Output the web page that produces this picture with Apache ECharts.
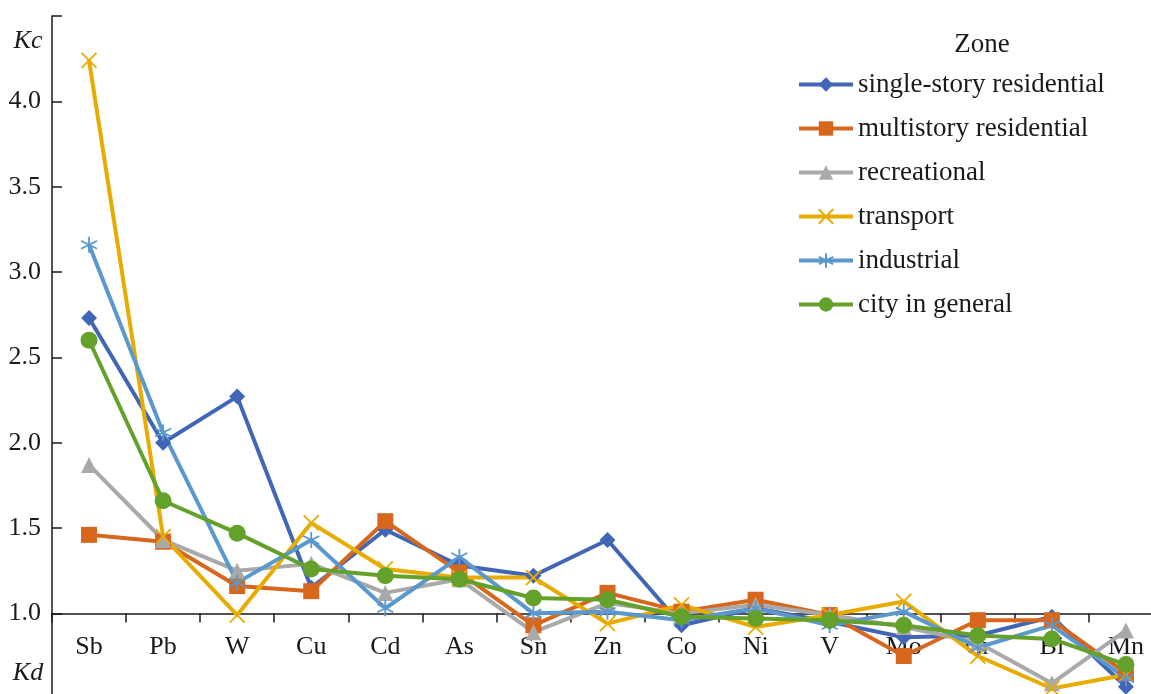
<!DOCTYPE html>
<html>
<head>
<meta charset="utf-8">
<script src="https://cdn.jsdelivr.net/npm/echarts@6/dist/echarts.min.js"></script>
<style>
  html, body { margin: 0; padding: 0; background: #fff; }
  #chart { width: 1151px; height: 694px; }
</style>
</head>
<body>
<div id="chart"></div>
<script>
// elements on x axis
const elements = ['Sb', 'Pb', 'W', 'Cu', 'Cd', 'As', 'Sn', 'Zn', 'Co', 'Ni', 'V', 'Mo', 'Cr', 'Bi', 'Mn'];

// Kc / Kd per zone
const singleStory = [2.73, 2.00, 2.27, 1.15, 1.49, 1.28, 1.22, 1.43, 0.93, 1.03, 0.95, 0.86, 0.87, 0.98, 0.57];
const multiStory  = [1.46, 1.42, 1.16, 1.13, 1.54, 1.24, 0.93, 1.12, 1.01, 1.08, 0.99, 0.75, 0.96, 0.96, 0.65];
const recreational = [1.87, 1.43, 1.25, 1.29, 1.12, 1.20, 0.89, 1.06, 1.00, 1.05, 0.99, 0.92, 0.83, 0.59, 0.90];
const transport   = [4.24, 1.45, 0.99, 1.53, 1.26, 1.21, 1.21, 0.94, 1.05, 0.92, 0.99, 1.07, 0.75, 0.56, 0.64];
const industrial  = [3.16, 2.06, 1.18, 1.43, 1.03, 1.33, 1.00, 1.01, 0.96, 1.03, 0.93, 1.01, 0.80, 0.93, 0.62];
const cityGeneral = [2.60, 1.66, 1.47, 1.26, 1.22, 1.20, 1.09, 1.08, 0.98, 0.97, 0.96, 0.93, 0.87, 0.85, 0.70];

const zoneNames = ['single-story residential', 'multistory residential', 'recreational', 'transport', 'industrial', 'city in general'];

const FONT = '"Liberation Serif", "DejaVu Serif", serif';
const X_PATH = 'path://M0,0L10,10M0,10L10,0';
const STAR_PATH = 'path://M5,0L5,10M0.7,2.5L9.3,7.5M0.7,7.5L9.3,2.5';

function lineSeries(name, data, color, symbol, size, stroked) {
  return {
    name: name,
    type: 'line',
    data: data,
    symbol: symbol,
    symbolSize: size,
    showAllSymbol: true,
    lineStyle: { color: color, width: 4 },
    itemStyle: stroked
      ? { color: 'rgba(0,0,0,0)', borderColor: color, borderWidth: 1.8 }
      : { color: color, borderWidth: 0 },
    emphasis: { disabled: true },
    animation: false
  };
}

const chart = echarts.init(document.getElementById('chart'));
chart.setOption({
  animation: false,
  grid: { left: 52, top: 16, right: -12, bottom: -4.7, outerBoundsMode: 'none', containLabel: false },
  legend: {
    orient: 'vertical',
    left: 797,
    top: 71,
    padding: 0,
    itemWidth: 54,
    itemHeight: 18,
    itemGap: 17,
    lineStyle: { width: 4 },
    textStyle: { fontFamily: FONT, fontSize: 27, color: '#1a1a1a', lineHeight: 27 },
    data: zoneNames
  },
  graphic: [
    { type: 'text', x: 982, y: 45, style: { text: 'Zone', font: '27px ' + FONT, fill: '#1a1a1a', align: 'center', verticalAlign: 'middle' } },
    { type: 'text', x: 28, y: 41, style: { text: 'Kc', font: 'italic 26px ' + FONT, fill: '#1a1a1a', align: 'center', verticalAlign: 'middle' } },
    { type: 'text', x: 28, y: 673, style: { text: 'Kd', font: 'italic 26px ' + FONT, fill: '#1a1a1a', align: 'center', verticalAlign: 'middle' } }
  ],
  xAxis: {
    type: 'category',
    data: elements,
    boundaryGap: true,
    offset: -85.3,
    axisLine: { onZero: false, lineStyle: { color: '#1a1a1a', width: 1.5 } },
    axisTick: { show: true, length: 9, inside: false, lineStyle: { color: '#1a1a1a', width: 1.5 } },
    axisLabel: { fontFamily: FONT, fontSize: 26, color: '#1a1a1a', margin: 21 },
    splitLine: { show: false }
  },
  yAxis: {
    type: 'value',
    min: 0.5,
    max: 4.5,
    interval: 0.5,
    axisLine: { show: true, lineStyle: { color: '#1a1a1a', width: 1.5 } },
    axisTick: { show: true, inside: true, length: 10, lineStyle: { color: '#1a1a1a', width: 1.5 } },
    axisLabel: {
      fontFamily: FONT, fontSize: 26, color: '#1a1a1a', margin: 11,
      formatter: function (v) { return (v < 0.9 || v > 4.1) ? '' : v.toFixed(1); }
    },
    splitLine: { show: false }
  },
  series: [
    lineSeries(zoneNames[0], singleStory, '#4166B5', 'diamond', 16, false),
    lineSeries(zoneNames[1], multiStory, '#D6671C', 'rect', 16, false),
    lineSeries(zoneNames[2], recreational, '#A9A9A9', 'triangle', 16, false),
    lineSeries(zoneNames[3], transport, '#E8AC00', X_PATH, 15, true),
    lineSeries(zoneNames[4], industrial, '#5B98CE', STAR_PATH, 16, true),
    lineSeries(zoneNames[5], cityGeneral, '#63A12B', 'circle', 17, false)
  ]
});
</script>
</body>
</html>
